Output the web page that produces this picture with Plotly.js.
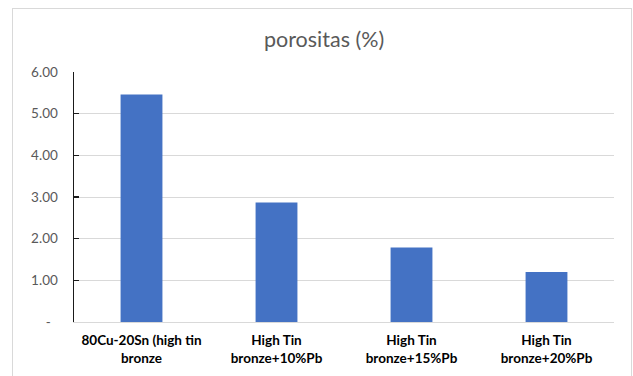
<!DOCTYPE html>
<html>
<head>
<meta charset="utf-8">
<script src="https://cdn.plot.ly/plotly-3.0.1.min.js"></script>
<style>
html,body{margin:0;padding:0;background:#fff;}
#frame{position:absolute;left:12px;top:8px;width:618px;height:380px;border:1px solid #d9d9d9;pointer-events:none;z-index:5;}
#chart{position:absolute;left:0;top:0;width:633px;height:376px;}
</style>
</head>
<body>
<div id="chart"></div>
<div id="frame"></div>
<script>
const categories = ["80Cu-20Sn (high tin<br>bronze", "High Tin<br>bronze+10%Pb", "High Tin<br>bronze+15%Pb", "High Tin<br>bronze+20%Pb"];
const porosity = [5.46, 2.87, 1.79, 1.20];
const yTickVals = [0, 1, 2, 3, 4, 5, 6];
const yTickText = ["-\u00a0\u00a0", "1.00", "2.00", "3.00", "4.00", "5.00", "6.00"];
const chartTitle = "porositas (%)";

const data = [{
  type: "bar",
  x: categories,
  y: porosity,
  marker: {color: "#4472C4"},
  hoverinfo: "skip"
}];

const layout = {
  width: 633, height: 376,
  margin: {l: 74, r: 19, t: 72, b: 54},
  paper_bgcolor: "#ffffff",
  plot_bgcolor: "#ffffff",
  bargap: 0.69,
  showlegend: false,
  font: {family: "Lato, 'Open Sans', sans-serif"},
  title: {
    text: chartTitle,
    font: {size: 21.5, color: "#595959", family: "Lato, 'Open Sans', sans-serif"},
    x: 0.512, xref: "container", xanchor: "center",
    y: 0.895, yref: "container", yanchor: "middle"
  },
  xaxis: {
    type: "category",
    showgrid: false,
    showline: true, linecolor: "#d9d9d9", linewidth: 1,
    ticks: "",
    tickfont: {size: 13.5, color: "#000000", family: "Lato, 'Open Sans', sans-serif", weight: "bold"},
    ticklabelstandoff: 6,
    fixedrange: true
  },
  yaxis: {
    range: [0, 6],
    tickvals: yTickVals,
    ticktext: yTickText,
    showgrid: true, gridcolor: "#d9d9d9", gridwidth: 1,
    zeroline: false,
    showline: true, linecolor: "#1a1a1a", linewidth: 1.5,
    ticks: "inside", ticklen: 5, tickwidth: 1.5, tickcolor: "#1a1a1a",
    tickfont: {size: 13.5, color: "#595959", family: "Lato, 'Open Sans', sans-serif"},
    ticklabelstandoff: 12,
    fixedrange: true
  }
};

Plotly.newPlot("chart", data, layout, {displayModeBar: false, staticPlot: true});
</script>
</body>
</html>
